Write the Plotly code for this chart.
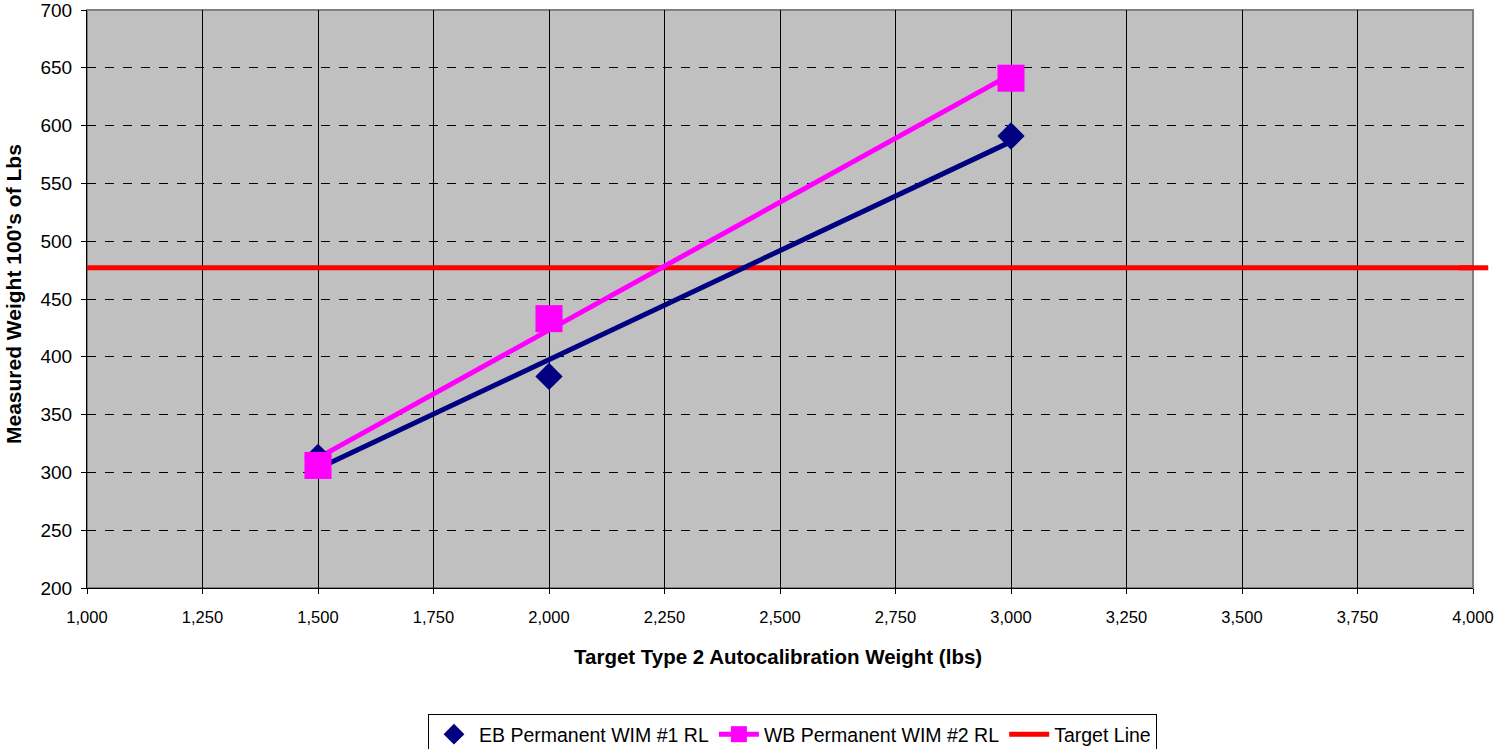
import numpy as np
import plotly.graph_objects as go

# Data
target_weight = [1500, 2000, 3000]
eb_measured = [313, 383, 591]
wb_measured = [306, 433, 641]
target_value = 477
x_range = [1000, 4000]
y_range = [200, 700]

eb_name = "EB Permanent WIM #1 RL"
wb_name = "WB Permanent WIM #2 RL"
target_name = "Target Line"
x_title = "Target Type 2 Autocalibration Weight (lbs)"
y_title = "Measured Weight 100's of Lbs"

NAVY = "#000080"
PINK = "#FF00FF"
RED = "#FF0000"

x_arr = np.array(target_weight, dtype=float)


def trend(yvals):
    m, b = np.polyfit(x_arr, np.array(yvals, dtype=float), 1)
    xs = [x_arr.min(), x_arr.max()]
    return xs, [m * v + b for v in xs]


def separated(vals):
    out = []
    for i, v in enumerate(vals):
        if i:
            out.append(None)
        out.append(v)
    return out


fig = go.Figure()

fig.add_trace(go.Scatter(
    x=x_range, y=[target_value, target_value], mode="lines",
    line=dict(color=RED, width=5), name=target_name, showlegend=False,
))

ex, ey = trend(eb_measured)
fig.add_trace(go.Scatter(x=ex, y=ey, mode="lines", line=dict(color=NAVY, width=5),
                         showlegend=False, hoverinfo="skip"))
wx, wy = trend(wb_measured)
fig.add_trace(go.Scatter(x=wx, y=wy, mode="lines", line=dict(color=PINK, width=5),
                         showlegend=False, hoverinfo="skip"))

fig.add_trace(go.Scatter(
    x=target_weight, y=eb_measured, mode="markers", name=eb_name,
    marker=dict(symbol="diamond", size=21, color=NAVY),
))
fig.add_trace(go.Scatter(
    x=separated(target_weight), y=separated(wb_measured), mode="lines+markers",
    name=wb_name, connectgaps=False,
    line=dict(color=PINK, width=5),
    marker=dict(symbol="square", size=27, color=PINK),
))
fig.add_trace(go.Scatter(
    x=[None], y=[None], mode="lines", name=target_name,
    line=dict(color=RED, width=5),
))

fig.add_shape(type="line", xref="paper", yref="y", x0=0.99, x1=1.011,
              y0=target_value, y1=target_value, line=dict(color=RED, width=5),
              layer="above")
fig.add_shape(type="rect", xref="paper", yref="paper", x0=0, x1=1, y0=0, y1=1,
              line=dict(color="#808080", width=2), layer="below")

fig.add_annotation(text="<b>%s</b>" % x_title, xref="paper", yref="paper",
                   x=0.4985, y=-0.118, xanchor="center", yanchor="middle",
                   showarrow=False, font=dict(size=20.5))
fig.add_annotation(text="<b>%s</b>" % y_title, xref="paper", yref="paper",
                   x=-0.0525, y=0.509, xanchor="center", yanchor="middle",
                   textangle=-90, showarrow=False, font=dict(size=21))

fig.update_layout(
    width=1497, height=749,
    margin=dict(l=87, r=24, t=10, b=161, autoexpand=False),
    paper_bgcolor="white", plot_bgcolor="#C0C0C0",
    font=dict(family="Liberation Sans, Arial, sans-serif", color="black", size=16),
    showlegend=True,
    legend=dict(
        orientation="h", x=0.509, xanchor="center", y=-0.218, yanchor="top",
        bordercolor="black", borderwidth=1, bgcolor="white",
        font=dict(size=19.5), itemwidth=40, tracegroupgap=0,
    ),
)

fig.update_xaxes(
    range=x_range, dtick=250, tick0=1000, tickformat=",d",
    showgrid=True, gridcolor="black", gridwidth=1,
    showline=True, linecolor="black", linewidth=1,
    ticks="outside", ticklen=5, tickcolor="black",
    tickfont=dict(size=16.5), zeroline=False, automargin=False,
    ticklabelstandoff=9, ticklabeloverflow="allow",
)
fig.update_yaxes(
    range=y_range, dtick=50, tick0=200,
    showgrid=True, gridcolor="black", gridwidth=1, griddash="dash",
    showline=True, linecolor="black", linewidth=1,
    ticks="outside", ticklen=5, tickcolor="black",
    tickfont=dict(size=19), zeroline=False, automargin=False,
    ticklabelstandoff=5, ticklabeloverflow="allow",
)

fig.write_html("out.html")
